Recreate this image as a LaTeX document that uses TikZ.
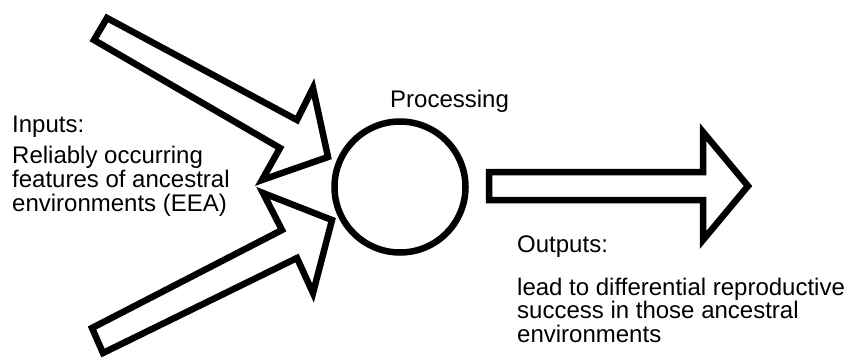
\documentclass[tikz,border=0pt]{standalone}
\usepackage{fontspec}
\setmainfont{Liberation Sans}
% left-aligned block of lines whose baseline is that of its first line
\newcommand{\textblock}[2]{\fontsize{24}{#1}\selectfont
  \begin{tabular}[t]{@{}l@{}}#2\end{tabular}}
\begin{document}
\begin{tikzpicture}[x=1pt,y=-1pt,
  outline/.style={draw=black,line width=6.5pt,line join=miter,fill=white},
  label/.style={inner sep=0pt,anchor=base west,
    font=\fontsize{24}{23}\selectfont}]
\useasboundingbox (0,0) rectangle (851,359);

% upper input arrow
\draw[outline] (107,18) -- (94,40) -- (280,148) -- (262,180) -- (328,157)
  -- (313,88) -- (297,120) -- cycle;
% lower input arrow
\draw[outline] (103,353) -- (92,328) -- (282,230) -- (263,193) -- (332,220)
  -- (313,293) -- (297,258) -- cycle;

% processing unit
\node[draw=black,line width=6.5pt,circle,minimum size=131pt,inner sep=0pt] (proc) at (400,187) {};
\node[label] (ptext) at (390,107) {Processing};

% output arrow
\draw[outline] (489,172) -- (703,172) -- (703,132) -- (748,186)
  -- (703,240) -- (703,200) -- (489,200) -- cycle;

% labels
\node[label] (inhead) at (12,132) {Inputs:};
\node[label] (intext) at (12,163) {\textblock{23}{Reliably occurring\\features of ancestral\\environments (EEA)}};
\node[label] (outhead) at (517,252) {Outputs:};
\node[label] (outtext) at (517,295) {\textblock{22}{lead to differential reproductive\\success in those ancestral\\environments}};
\end{tikzpicture}
\end{document}
